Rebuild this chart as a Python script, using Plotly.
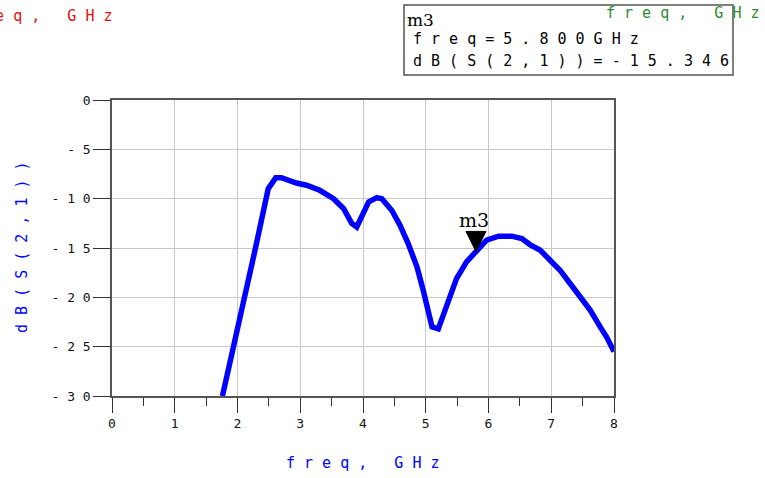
import plotly.graph_objects as go

# S21 magnitude sweep (GHz, dB)
freq_ghz = [1.76, 1.88, 2.09, 2.28, 2.39, 2.49, 2.61, 2.70, 2.94, 3.10,
            3.31, 3.53, 3.69, 3.82, 3.90, 4.01, 4.09, 4.22, 4.30, 4.46,
            4.59, 4.72, 4.86, 4.96, 5.10, 5.20, 5.33, 5.49, 5.65, 5.80,
            5.97, 6.16, 6.37, 6.53, 6.66, 6.82, 6.98, 7.14, 7.30, 7.46,
            7.62, 7.78, 7.88, 8.00]
s21_db = [-30.0, -26.4, -20.6, -15.2, -11.85, -8.98, -7.87, -7.87, -8.41, -8.64,
          -9.15, -10.0, -11.0, -12.5, -12.87, -11.5, -10.33, -9.9, -10.0, -11.2,
          -12.7, -14.55, -16.9, -19.3, -23.0, -23.2, -21.0, -18.1, -16.4, -15.346,
          -14.2, -13.8, -13.8, -14.05, -14.65, -15.2, -16.2, -17.25, -18.6, -19.96,
          -21.3, -23.0, -24.0, -25.5]

# marker m3
marker_name = "m3"
marker_freq = 5.8
marker_db = -15.346

x_tick_vals = [0, 1, 2, 3, 4, 5, 6, 7, 8]
x_tick_text = ["0", "1", "2", "3", "4", "5", "6", "7", "8"]
y_tick_vals = [0, -5, -10, -15, -20, -25, -30]
y_tick_text = ["0", "- 5", "- 1 0", "- 1 5", "- 2 0", "- 2 5", "- 3 0"]

MONO = "DejaVu Sans Mono"
SERIF = "DejaVu Serif"


def spaced(s):
    """Spread characters out like the plotting tool's wide bitmap font."""
    return " ".join(s)


# plot area in pixels
W, H = 765, 478
L, R, T, B = 112, 151, 100, 82
PW, PH = W - L - R, H - T - B


def px(xpix):
    return (xpix - L) / PW


def py(ypix):
    return (H - B - ypix) / PH


fig = go.Figure()
fig.add_trace(go.Scatter(
    x=freq_ghz, y=s21_db, mode="lines",
    line=dict(color="#0000ff", width=5.5),
    hoverinfo="skip", showlegend=False,
))

axis_common = dict(
    showline=True, linecolor="#555555", linewidth=1.5, mirror=True,
    showgrid=True, gridcolor="#c8c8c8", gridwidth=1,
    zeroline=False, ticks="outside", tickcolor="#333333", tickwidth=1,
    tickfont=dict(family=MONO, size=13, color="#111111"),
)

fig.update_xaxes(
    range=[0, 8], tickvals=x_tick_vals, ticktext=x_tick_text, ticklen=15,
    minor=dict(dtick=0.5, ticks="outside", ticklen=8, tickcolor="#333333",
               showgrid=False),
    **axis_common,
)
fig.update_yaxes(
    range=[-30, 0], tickvals=y_tick_vals, ticktext=y_tick_text, ticklen=17,
    **axis_common,
)

shapes = [
    # marker readout box
    dict(type="rect", xref="paper", yref="paper",
         x0=px(404), x1=px(733), y0=py(75), y1=py(5),
         line=dict(color="#555555", width=1.5), fillcolor="white", layer="above"),
    # marker triangle, apex at the marker point
    dict(type="path", xref="x", yref="y",
         xsizemode="pixel", ysizemode="pixel",
         xanchor=marker_freq, yanchor=marker_db,
         path="M -10 20 L 10 20 L 0 0 Z",
         fillcolor="black", line=dict(color="black", width=1)),
]

annotations = [
    # axis titles
    dict(text=spaced("freq, GHz"), xref="paper", yref="paper",
         x=0.5, y=py(463), xanchor="center", yanchor="middle", showarrow=False,
         font=dict(family=MONO, size=15, color="#0000ff")),
    dict(text=spaced("dB(S(2,1))"), xref="paper", yref="paper",
         x=px(22), y=py(247), xanchor="center", yanchor="middle", showarrow=False,
         textangle=-90, font=dict(family=MONO, size=15, color="#0000ff")),
    # stray sweep-variable labels along the top
    dict(text=spaced("freq, GHz"), xref="paper", yref="paper",
         x=px(-43), y=py(16), xanchor="left", yanchor="middle", showarrow=False,
         font=dict(family=MONO, size=15, color="#e01010")),
    # marker readout text
    dict(text=marker_name, xref="paper", yref="paper",
         x=px(405), y=py(20), xanchor="left", yanchor="middle", showarrow=False,
         font=dict(family=SERIF, size=17, color="black")),
    dict(text=spaced(f"freq={marker_freq:.3f}GHz"), xref="paper", yref="paper",
         x=px(411), y=py(39), xanchor="left", yanchor="middle", showarrow=False,
         font=dict(family=MONO, size=15, color="black")),
    dict(text=spaced(f"dB(S(2,1))={marker_db:.3f}"), xref="paper", yref="paper",
         x=px(411), y=py(61), xanchor="left", yanchor="middle", showarrow=False,
         font=dict(family=MONO, size=15, color="black")),
    dict(text=spaced("freq, GHz"), xref="paper", yref="paper",
         x=px(604), y=py(13), xanchor="left", yanchor="middle", showarrow=False,
         font=dict(family=MONO, size=15, color="#2e8b2e")),
    # marker label above the triangle
    dict(text=marker_name, x=marker_freq, y=marker_db, xref="x", yref="y",
         xanchor="center", yanchor="middle", yshift=31, xshift=-2,
         showarrow=False, font=dict(family=SERIF, size=19, color="black")),
]

fig.update_layout(
    width=W, height=H,
    margin=dict(l=L, r=R, t=T, b=B, pad=0),
    paper_bgcolor="white", plot_bgcolor="white",
    showlegend=False,
    shapes=shapes, annotations=annotations,
)

fig.write_html("out.html")
